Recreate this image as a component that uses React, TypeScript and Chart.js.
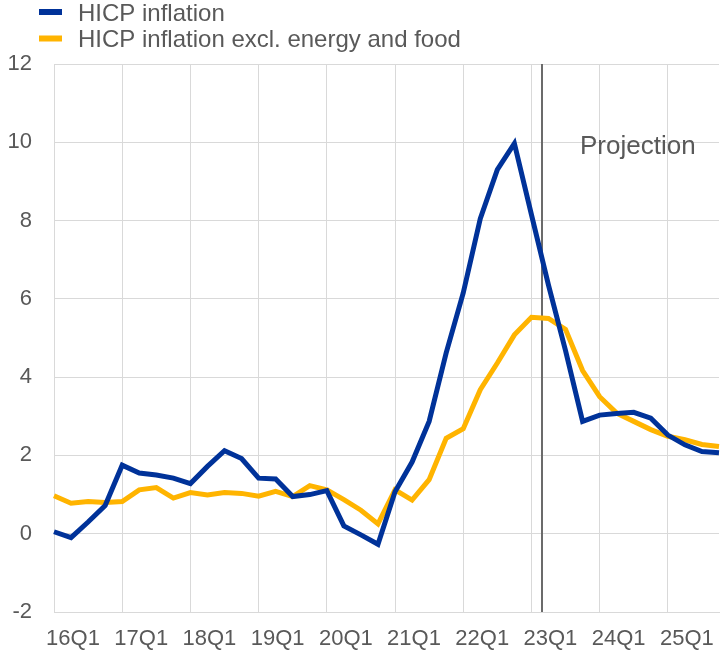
import React, { useEffect, useRef } from "react";
import { Chart, registerables } from "chart.js";

Chart.register(...registerables);

// ---- Data ----
const quarters = [
  "16Q1", "16Q2", "16Q3", "16Q4",
  "17Q1", "17Q2", "17Q3", "17Q4",
  "18Q1", "18Q2", "18Q3", "18Q4",
  "19Q1", "19Q2", "19Q3", "19Q4",
  "20Q1", "20Q2", "20Q3", "20Q4",
  "21Q1", "21Q2", "21Q3", "21Q4",
  "22Q1", "22Q2", "22Q3", "22Q4",
  "23Q1", "23Q2", "23Q3", "23Q4",
  "24Q1", "24Q2", "24Q3", "24Q4",
  "25Q1", "25Q2", "25Q3", "25Q4",
];

const hicp = [
  0.05, -0.1, 0.3, 0.72,
  1.75, 1.55, 1.5, 1.42,
  1.28, 1.72, 2.12, 1.92,
  1.42, 1.4, 0.95, 1.0,
  1.1, 0.2, -0.03, -0.27,
  1.07, 1.83, 2.87, 4.62,
  6.15, 8.05, 9.3, 9.97,
  8.15, 6.35, 4.68, 2.87,
  3.03, 3.07, 3.1, 2.95,
  2.52, 2.27, 2.1, 2.07,
];

const hicpCore = [
  0.97, 0.78, 0.82, 0.8,
  0.82, 1.12, 1.18, 0.91,
  1.05, 0.99, 1.05, 1.03,
  0.96, 1.08, 0.95, 1.23,
  1.12, 0.87, 0.6, 0.25,
  1.12, 0.86, 1.38, 2.44,
  2.68, 3.68, 4.36, 5.08,
  5.53, 5.5, 5.22, 4.17,
  3.5, 3.08, 2.87, 2.66,
  2.49, 2.4, 2.28, 2.23,
];

const seriesNames = ["HICP inflation", "HICP inflation excl. energy and food"];
const seriesColors = ["#003299", "#FFB400"];

const yMin = -2;
const yMax = 12;
const yStep = 2;

// projection starts between 23Q1 and 23Q2 (category index)
const projectionStart = 28.62;
const projectionLabel = "Projection";

const FONT = "'Liberation Sans', Arial, Helvetica, sans-serif";
const TEXT = "#595959";
const GRID = "#d9d9d9";

const projectionPlugin = {
  id: "projection",
  beforeDatasetsDraw(chart: any) {
    const { ctx, chartArea, scales } = chart;
    const xs = scales.x;
    const i0 = Math.floor(projectionStart);
    const p0 = xs.getPixelForValue(i0);
    const p1 = xs.getPixelForValue(i0 + 1);
    const x = Math.round(p0 + (p1 - p0) * (projectionStart - i0));
    ctx.save();
    ctx.strokeStyle = "#6b6b6b";
    ctx.lineWidth = 2;
    ctx.beginPath();
    ctx.moveTo(x, chartArea.top);
    ctx.lineTo(x, chartArea.bottom);
    ctx.stroke();
    ctx.fillStyle = TEXT;
    ctx.font = `26px ${FONT}`;
    ctx.textAlign = "left";
    ctx.textBaseline = "middle";
    ctx.fillText(projectionLabel, x + 38, chartArea.top + 83);
    ctx.restore();
  },
};

const legendPlugin = {
  id: "customLegend",
  afterDraw(chart: any) {
    const { ctx } = chart;
    ctx.save();
    ctx.font = `24px ${FONT}`;
    ctx.textAlign = "left";
    ctx.textBaseline = "middle";
    seriesNames.forEach((name, i) => {
      const cy = 12 + i * 26.5;
      ctx.fillStyle = seriesColors[i];
      ctx.fillRect(39, cy - 3, 23, 6);
      ctx.fillStyle = TEXT;
      ctx.fillText(name, 78, cy + 2);
    });
    ctx.restore();
  },
};

export default function App() {
  const ref = useRef<HTMLCanvasElement>(null);

  useEffect(() => {
    if (!ref.current) return;
    const chart = new Chart(ref.current, {
      type: "line",
      data: {
        labels: quarters,
        datasets: [
          {
            label: seriesNames[0],
            data: hicp,
            borderColor: seriesColors[0],
            backgroundColor: seriesColors[0],
            borderWidth: 5,
            pointRadius: 0,
            tension: 0,
            fill: false,
          },
          {
            label: seriesNames[1],
            data: hicpCore,
            borderColor: seriesColors[1],
            backgroundColor: seriesColors[1],
            borderWidth: 5,
            pointRadius: 0,
            tension: 0,
            fill: false,
          },
        ],
      },
      options: {
        responsive: false,
        animation: false,
        events: [],
        layout: { padding: { top: 64, right: 6, bottom: 0, left: 0 } },
        plugins: {
          legend: { display: false },
          tooltip: { enabled: false },
          title: { display: false },
        },
        scales: {
          x: {
            type: "category",
            offset: false,
            grid: {
              color: (c: any) => (c.index % 4 === 0 ? GRID : "rgba(0,0,0,0)"),
              drawTicks: true,
              tickLength: 14,
              tickColor: "rgba(0,0,0,0)",
              lineWidth: 1,
            },
            border: { color: GRID, width: 1 },
            ticks: {
              autoSkip: false,
              maxRotation: 0,
              minRotation: 0,
              labelOffset: 19,
              padding: 0,
              color: TEXT,
              font: { family: FONT, size: 22 },
              callback: (_v: any, i: number) => (i % 4 === 0 ? quarters[i] : ""),
            },
            afterFit: (s: any) => {
              s.height = 41;
            },
          },
          y: {
            min: yMin,
            max: yMax,
            grid: { color: GRID, drawTicks: false, lineWidth: 1 },
            border: { color: GRID, width: 1 },
            ticks: {
              stepSize: yStep,
              padding: 22,
              color: TEXT,
              font: { family: FONT, size: 22 },
            },
            afterFit: (s: any) => {
              s.width = 54;
            },
          },
        },
      },
      plugins: [projectionPlugin, legendPlugin],
    });
    return () => chart.destroy();
  }, []);

  return (
    <div
      style={{
        position: "fixed",
        left: 0,
        top: 0,
        width: 725,
        height: 653,
        background: "#ffffff",
      }}
    >
      <canvas ref={ref} width={725} height={653} style={{ display: "block" }} />
    </div>
  );
}
